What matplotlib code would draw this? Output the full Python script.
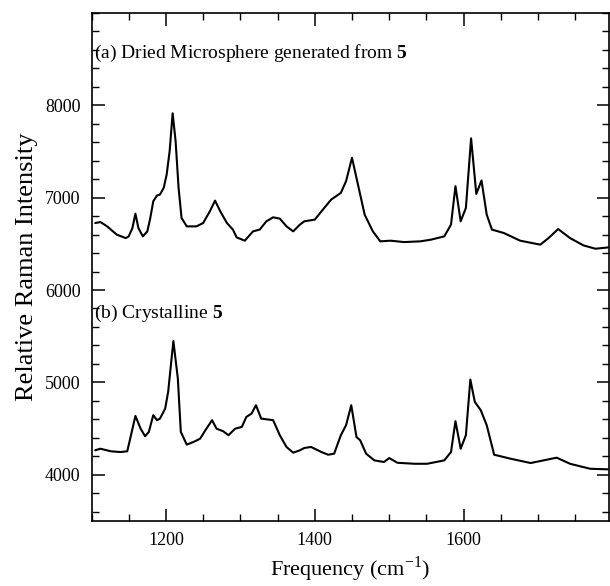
from typing import List
import matplotlib
matplotlib.use('Agg')
import matplotlib.pyplot as plt
from matplotlib.ticker import MultipleLocator

# Spectrum (a): dried microsphere generated from 5
freq_a: List[float] = [1105, 1112, 1121, 1134, 1146, 1150, 1155, 1159, 1163, 1169,
                       1175, 1179, 1183, 1188, 1192, 1197, 1201, 1205, 1209, 1213,
                       1217, 1221, 1228, 1241, 1250, 1259, 1266, 1273, 1282, 1290,
                       1295, 1306, 1317, 1326, 1335, 1344, 1353, 1362, 1371, 1380,
                       1386, 1400, 1409, 1422, 1435, 1442, 1450, 1458, 1467, 1478,
                       1488, 1502, 1520, 1542, 1556, 1574, 1583, 1589, 1596, 1603,
                       1610, 1617, 1624, 1631, 1638, 1654, 1676, 1703, 1714, 1727,
                       1743, 1761, 1777, 1794]
intensity_a: List[float] = [6725, 6736, 6689, 6599, 6562, 6581, 6671, 6827, 6671, 6581,
                            6635, 6780, 6961, 7023, 7034, 7105, 7251, 7504, 7913, 7612,
                            7105, 6780, 6689, 6689, 6725, 6852, 6968, 6852, 6725, 6654,
                            6570, 6534, 6635, 6654, 6744, 6787, 6773, 6689, 6635, 6708,
                            6744, 6762, 6852, 6979, 7051, 7178, 7431, 7142, 6816, 6635,
                            6527, 6534, 6519, 6527, 6545, 6581, 6708, 7124, 6744, 6888,
                            7642, 7040, 7186, 6816, 6654, 6617, 6534, 6491, 6562, 6660,
                            6562, 6483, 6447, 6461]

# Spectrum (b): crystalline 5
freq_b: List[float] = [1105, 1112, 1126, 1139, 1148, 1152, 1159, 1166, 1172, 1177,
                       1183, 1188, 1192, 1199, 1203, 1210, 1216, 1220, 1228, 1237,
                       1246, 1253, 1262, 1268, 1277, 1284, 1293, 1302, 1308, 1315,
                       1321, 1328, 1344, 1353, 1362, 1371, 1380, 1386, 1395, 1409,
                       1418, 1426, 1435, 1442, 1449, 1456, 1461, 1469, 1480, 1493,
                       1500, 1511, 1534, 1551, 1574, 1583, 1589, 1596, 1603, 1609,
                       1615, 1623, 1631, 1641, 1663, 1690, 1725, 1743, 1770, 1794]
intensity_b: List[float] = [4265, 4282, 4254, 4246, 4254, 4391, 4637, 4499, 4417, 4464,
                            4645, 4591, 4608, 4717, 4898, 5448, 5042, 4464, 4326, 4355,
                            4391, 4482, 4591, 4499, 4471, 4428, 4499, 4518, 4626, 4662,
                            4753, 4608, 4591, 4428, 4301, 4239, 4265, 4290, 4301, 4246,
                            4217, 4228, 4428, 4536, 4753, 4409, 4373, 4228, 4156, 4138,
                            4181, 4130, 4119, 4119, 4156, 4246, 4580, 4282, 4428, 5031,
                            4789, 4699, 4536, 4217, 4174, 4127, 4185, 4119, 4065, 4059]

label_a = r'(a) Dried Microsphere generated from $\mathbf{5}$'
label_b = r'(b) Crystalline $\mathbf{5}$'


def setup_style():
    """
    Times-like serif text everywhere, bold digits through mathtext.
    """
    plt.rcParams['font.family'] = ['Liberation Serif', 'DejaVu Serif']
    plt.rcParams['mathtext.fontset'] = 'custom'
    plt.rcParams['mathtext.rm'] = 'Liberation Serif'
    plt.rcParams['mathtext.bf'] = 'Liberation Serif:bold'
    plt.rcParams['axes.linewidth'] = 1.2


def plot_spectra():
    fig = plt.figure(figsize=(6.10, 5.86), dpi=100)
    ax = fig.add_axes([0.150, 0.111, 0.848, 0.867])

    for freq, inten in ((freq_a, intensity_a), (freq_b, intensity_b)):
        ax.plot(freq, inten, color='black', lw=1.5,
                solid_joinstyle='round', solid_capstyle='round')

    ax.set_xlim(1100, 1795)
    ax.set_ylim(3500, 9000)

    ax.xaxis.set_major_locator(MultipleLocator(200))
    ax.xaxis.set_minor_locator(MultipleLocator(50))
    ax.yaxis.set_major_locator(MultipleLocator(1000))
    ax.yaxis.set_minor_locator(MultipleLocator(200))
    ax.set_yticks([4000, 5000, 6000, 7000, 8000])

    ax.tick_params(which='both', direction='in', top=True, right=True,
                   labelsize=13, pad=8)
    ax.tick_params(which='major', length=9, width=1.1)
    ax.tick_params(which='minor', length=5, width=1.0)

    ax.text(0.004, 0.921, label_a, transform=ax.transAxes, fontsize=14,
            ha='left', va='center')
    ax.text(0.004, 0.409, label_b, transform=ax.transAxes, fontsize=14,
            ha='left', va='center')

    ax.set_xlabel(r'Frequency (cm$^{-1}$)', fontsize=16, labelpad=4)
    ax.set_ylabel('Relative Raman Intensity', fontsize=19, labelpad=5)

    fig.savefig('out.png', dpi=100)


if __name__ == '__main__':
    setup_style()
    plot_spectra()
